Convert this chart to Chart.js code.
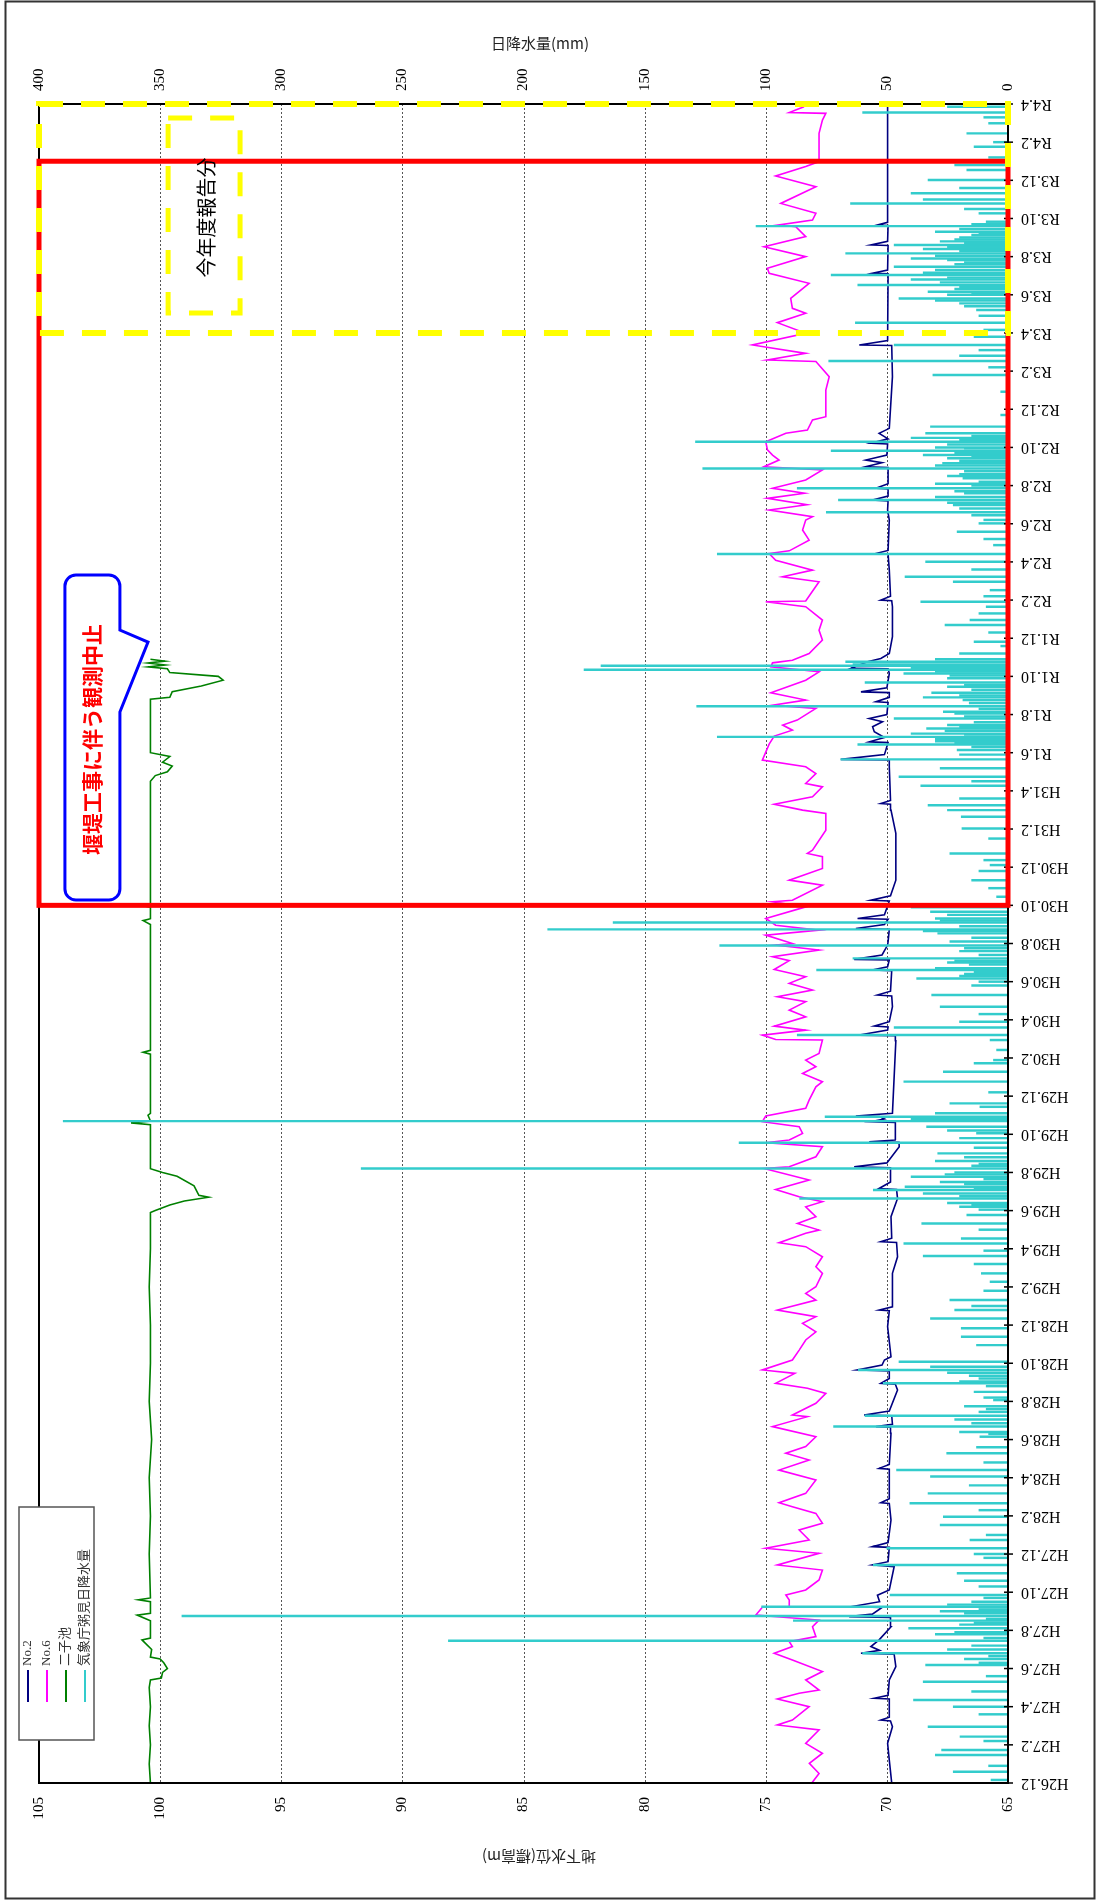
<!DOCTYPE html>
<html><head><meta charset="utf-8">
<script src="https://cdn.jsdelivr.net/npm/chart.js@4.4.1/dist/chart.umd.min.js"></script>
<style>html,body{margin:0;padding:0;background:#fff;}canvas{display:block;}</style>
</head><body>
<canvas id="c" width="1097" height="1901" style="width:1097px;height:1901px"></canvas>
<script>
// ---- tick labels (time axis in months since H26.12) ----
const dateTickLabels = ['H26.12','H27.2','H27.4','H27.6','H27.8','H27.10','H27.12','H28.2','H28.4','H28.6','H28.8','H28.10','H28.12','H29.2','H29.4','H29.6','H29.8','H29.10','H29.12','H30.2','H30.4','H30.6','H30.8','H30.10','H30.12','H31.2','H31.4','R1.6','R1.8','R1.10','R1.12','R2.2','R2.4','R2.6','R2.8','R2.10','R2.12','R3.2','R3.4','R3.6','R3.8','R3.10','R3.12','R4.2','R4.4'];
const levelTicks = [105,100,95,90,85,80,75,70,65];
const rainTicks = [400,350,300,250,200,150,100,50,0];
const seriesNames = ['No.2','No.6','二子池','気象庁粥見日降水量'];

// ---- No.6 groundwater level [month, m] ----
const no6Series = [[0,73.1],[0.5,72.8],[1.03,73.2],[1.56,72.66],[2.08,73.35],[2.78,72.8],[3.04,74.52],[3.3,73.9],[4.0,73.21],[4.4,74.52],[4.7,73.62],[4.87,72.8],[5.4,73.35],[5.84,72.66],[6.45,73.9],[6.8,74.65],[7.15,73.9],[7.41,74.03],[7.67,72.93],[8.19,73.07],[8.54,72.8],[8.8,75.41],[9.21,75.14],[9.24,74.0],[9.59,74.03],[9.85,74.17],[10.12,73.35],[10.64,72.8],[11.16,72.66],[11.43,74.52],[12.04,72.8],[12.3,75.0],[12.74,73.21],[13.26,73.62],[13.61,72.66],[14.13,72.93],[14.48,73.9],[14.69,74.45],[15.18,73.35],[15.88,72.93],[16.4,74.45],[16.93,73.21],[17.28,74.17],[17.63,73.35],[18.15,72.93],[18.68,74.72],[19.2,73.28],[19.29,73.9],[19.9,72.93],[20.42,72.52],[20.69,73.28],[20.95,74.59],[21.47,73.8],[21.65,75.14],
[22.17,73.9],[22.69,73.62],[23.22,73.35],[23.65,72.93],[24.09,73.48],[24.44,72.93],[24.79,74.52],[25.31,72.93],[25.66,73.35],[26.01,72.93],[26.71,72.66],[27.06,72.93],[27.58,72.66],[28.11,73.35],[28.32,74.45],[28.81,73.35],[28.98,72.8],[29.33,73.69],[29.68,72.93],[30.2,73.35],[30.47,72.66],[30.73,73.62],[31.11,74.59],[31.6,73.21],[32.21,75.07],[32.3,74.03],[32.82,72.93],[33.35,72.66],[33.56,75.0],[33.7,74.03],[34.05,73.48],[34.4,73.62],[34.66,75.14],[34.96,75.0],[35.36,73.35],[35.79,73.21],[36.49,72.93],[36.76,72.66],[37.19,73.48],[37.54,72.93],[37.89,73.35],[38.24,72.8],[38.94,72.66],[38.97,74.59],[39.2,75.14],[39.46,73.35],[39.67,74.65],[40.16,73.35],[40.51,74.03],[40.95,73.35],[41.21,74.52],[41.56,73.07],[41.91,74.03],[42.26,73.35],[42.64,74.65],[43.1,74.03],[43.31,74.72],[43.66,72.8],[43.92,74.59],
[44.0,73.9],[44.44,75.0],[44.7,72.8],[44.96,74.59],[45.31,75.0],[45.92,73.35],[46.19,74.72],[46.27,73.9],[47.06,72.66],[47.32,74.03],[47.93,72.66],[48.55,72.66],[48.72,73.28],[48.89,73.07],[49.94,72.52],[50.82,72.52],[50.99,73.48],[51.3,74.65],[51.69,73.07],[52.21,72.66],[52.39,73.35],[52.91,72.93],[53.26,73.35],[53.61,75.14],[54.45,74.86],[54.87,74.65],[55.18,73.9],[55.45,74.3],[55.71,73.7],[56.32,72.93],[56.49,74.72],[56.76,73.35],[57.14,74.79],[57.8,73.35],[58.24,72.8],[58.5,74.79],[58.71,74.72],[58.85,73.9],[59.2,73.21],[59.9,72.66],[60.42,72.8],[60.95,72.66],[61.65,73.35],[61.91,75.0],[61.95,73.35],[62.96,72.8],[63.22,74.31],[63.57,73.07],[64.09,74.59],[64.44,74.86],[64.58,74.03],[65.14,73.21],[65.67,73.48],[66.19,73.35],
[66.37,73.07],[66.72,74.86],[67.0,73.3],[67.33,74.93],[67.6,73.4],[67.86,74.72],[68.29,73.35],[68.82,72.66],[68.99,75.07],[69.34,74.45],[69.6,74.72],[69.87,74.93],[70.3,75.0],[70.74,74.17],[70.91,73.28],[71.44,73.07],[71.61,72.52],[73.01,72.52],[73.71,72.38],[74.5,72.93],[74.58,74.93],[74.93,73.35],[75.37,75.55],[75.98,73.35],[76.54,74.52],[77.03,73.35],[77.29,73.9],[77.81,73.97],[78.6,73.21],[79.13,74.86],[79.39,74.93],[80.0,73.35],[80.52,75.07],[81.05,73.35],[81.57,73.76],[81.66,74.45],[81.92,73.07],[82.27,72.93],[82.79,74.38],[83.67,72.93],[84.23,74.59],[84.72,73.35],[84.98,72.8],[86.46,72.8],[87.16,72.66],[87.51,72.52],[87.55,74.03],[87.86,73.42]];

// ---- No.2 groundwater level [month, m] ----
const no2Series = [[0,69.8],[1.2,69.9],[2.08,69.97],[2.95,69.77],[3.25,69.85],[3.3,70.25],[3.45,69.9],[4.4,69.9],[4.44,70.52],[4.6,69.95],[5.4,69.9],[6.1,69.63],[6.75,69.7],[6.8,71.07],[6.95,70.3],[7.15,70.66],[7.5,70.32],[8.19,69.83],[8.68,69.85],[8.72,71.56],[8.85,70.6],[9.2,70.2],[9.24,71.49],[9.5,70.3],[9.84,70.39],[10.12,69.9],[11.34,69.7],[11.43,70.59],[11.6,69.95],[12.35,69.9],[12.39,70.59],[12.6,69.95],[13.78,69.83],[14.65,69.9],[14.69,70.25],[14.9,69.9],[16.45,69.9],[16.49,70.32],[16.7,69.9],[18.33,69.83],[18.65,69.85],[18.68,70.45],[18.8,69.77],[19.25,69.8],[19.29,70.94],[19.5,69.9],[20.6,69.56],[20.9,69.65],[20.95,70.25],[21.2,69.9],[21.6,69.9],[21.65,71.21],[21.9,70.2],[22.17,70.1],
[22.34,69.83],[23.92,69.97],[24.75,69.9],[24.79,70.32],[24.96,69.77],[26.71,69.77],[27.58,69.56],[28.33,69.6],[28.37,70.25],[28.55,69.8],[29.68,69.83],[30.64,69.56],[31.1,69.6],[31.16,70.32],[31.5,69.85],[32.25,69.85],[32.3,71.35],[32.5,70.0],[33.35,69.49],[33.58,69.5],[33.61,70.73],[33.7,69.63],[34.62,69.65],[34.66,70.66],[34.8,70.1],[34.93,70.3],[34.96,71.28],[35.1,69.77],[38.9,69.63],[39.17,69.65],[39.2,71.14],[39.46,69.97],[39.62,69.95],[39.67,70.52],[39.9,69.9],[40.69,69.77],[41.25,69.8],[41.3,70.39],[41.5,69.85],[42.58,69.8],[42.61,70.59],[42.78,69.97],[43.14,69.9],[43.17,71.35],[43.4,70.2],[43.92,69.97],
[44.1,69.95],[44.75,69.9],[44.79,71.28],[45.0,70.1],[45.27,69.95],[45.31,71.21],[45.5,70.1],[46.23,69.9],[46.27,70.66],[46.5,69.85],[47.32,69.63],[49.77,69.63],[50.99,69.83],[51.3,69.85],[51.34,70.25],[51.5,69.85],[53.26,69.9],[53.62,69.9],[53.65,71.9],[53.9,70.1],[54.53,69.95],[54.57,70.73],[54.8,70.1],[55.1,70.52],[55.36,70.59],[55.62,70.18],[55.79,70.73],[56.0,70.0],[56.63,69.95],[56.67,70.45],[56.9,69.9],[57.15,69.9],[57.19,71.07],[57.4,70.0],[58.15,69.9],[58.4,69.95],[58.42,71.49],[58.77,70.8],[58.94,70.25],[59.2,69.9],[60.08,69.77],[61.65,69.77],[61.97,69.8],[62.0,70.25],[62.2,69.85],[63.57,69.9],[64.4,69.95],[64.44,70.45],[64.6,69.95],[66.19,69.9],
[66.72,69.97],[67.2,69.95],[67.25,70.59],[67.45,69.95],[67.82,69.95],[67.86,70.45],[68.1,69.95],[68.95,69.95],[68.99,70.87],[69.2,70.2],[69.34,70.87],[69.6,70.0],[70.18,69.97],[70.22,70.66],[70.45,69.95],[70.74,70.32],[71.0,69.9],[73.71,69.77],[75.34,69.8],[75.37,71.14],[75.6,69.97],[79.1,69.95],[79.13,70.59],[79.3,69.97],[80.58,69.95],[80.61,70.66],[80.8,69.97],[81.63,69.95],[81.66,70.39],[81.8,69.97],[88.0,69.97]];

// ---- 二子池 water level [month, m] ----
const pondSeries = [[0,100.4],[1.0,100.45],[2.0,100.4],[3.0,100.45],[4.0,100.4],[5.0,100.45],[5.4,100.4],[5.5,99.95],[5.8,99.9],[6.0,99.7],[6.3,99.85],[6.5,100.0],[6.6,100.4],[7.0,100.35],[7.5,100.75],[7.6,100.4],[8.5,100.4],[8.8,100.95],[8.9,100.4],[9.5,100.4],[9.6,100.9],[9.7,100.4],[12,100.45],[14,100.4],[16,100.45],[18,100.35],[20,100.45],[22,100.4],[24,100.4],[26,100.45],[28,100.4],[29.9,100.4],[30.0,100.2],[30.3,99.6],[30.5,99.0],[30.7,98.0],[30.8,98.4],[31.3,98.6],[31.8,99.3],[32.0,99.9],[32.2,100.4],[33,100.4],[34.5,100.4],[34.6,101.2],[34.7,100.4],[35.0,100.5],[35.1,100.4],[38.2,100.4],[38.3,100.7],[38.4,100.4],[42,100.4],[45,100.4],[45.2,100.7],[45.3,100.4],[45.9,100.4],[46.0,100.8],[46.1,100.4],[50,100.4],[52.5,100.4],[52.8,100.2],[53.0,99.7],[53.3,99.5],[53.5,99.9],[53.8,99.6],[54.0,100.4],[56.8,100.4],[56.9,99.6],[57.2,99.5],[57.5,98.3],[57.8,97.4],[58.0,97.6],[58.2,99.6],[58.4,99.7],[58.5,100.5],[58.6,99.8],[58.7,100.5],[58.8,99.8],[58.9,100.4]];

// ---- daily rainfall [month, mm] ----
const rainSeries = [[0.16,7],[0.59,22.6],[0.9,8],[1.47,30],[1.73,27.4],[2.2,10],[2.43,19.8],[2.95,33],[3.6,12],[4.0,22.6],[4.35,39],[4.8,15],[5.31,35],[5.6,9],[6.18,34],[6.5,18],[6.8,60],[7.0,25],[7.46,231],[7.8,30],[8.11,41],[8.3,20],[8.51,88.6],[8.75,341],[9.0,28],[9.24,101.7],[9.5,15],[9.85,48.7],[10.3,12],[10.6,18],[10.99,21],[11.43,55.6],[11.8,10],[12.0,14],[12.3,50],[12.74,15.7],[13.0,9],[13.52,28],[13.96,26.7],[14.3,12],[14.66,40.5],[15.18,33],[15.6,16],[16.06,32],[16.4,46],[16.8,10],[17.28,25.3],[17.6,13],[18.15,11.6],[18.4,20],[18.68,72],[19.25,59],[19.6,9],[20.07,6],[20.95,51.5],[21.2,12],[21.65,61.8],[21.82,32],[22.08,45],[22.95,13],[23.39,19.3],[23.83,19.3],[24.35,32],[24.79,22],[25.0,15],[25.31,24],[25.8,10],[26.27,7.4],[26.71,11],[27.2,14],[27.62,35],[27.9,10],[28.28,43],[28.54,19.3],[29.0,12],[29.33,35.6],[29.77,17],[30.2,20],[30.4,25],[30.64,86],[30.9,35],[31.08,55.6],[31.25,42.5],[31.5,28],[31.78,40],[32.0,22],[32.21,267],[32.6,30],[33.0,29],[33.56,111],[33.8,20],[34.05,13],[34.2,25],[34.4,33.6],[34.69,390],[34.8,40],[34.92,75.5],[35.1,30],[35.44,11.6],[35.62,24],[36.2,8],[36.76,43],[37.28,26.7],[37.72,14],[37.89,6],[38.42,4.7],[38.94,7.4],[39.2,87],[39.6,47],[39.9,20],[40.3,12],[40.69,28],[41.3,31.5],[41.8,15],[42.17,37.7],[42.4,18],[42.61,79],[43.0,25],[43.22,64],[43.6,20],[43.9,119],[44.53,29],[44.74,190],[45.1,163],[45.31,30],[45.5,25],[45.66,32],[45.9,40],[46.45,4.7],[46.9,8],[47.32,15],[47.8,12],[48.11,7.4],[48.37,10],[48.72,24],[49.5,8],[50.03,19],[50.64,19.3],[50.99,25],[51.25,33],[51.6,20],[52.27,36],[52.5,15],[52.74,45],[53.18,28],[53.65,69],[53.9,20],[54.14,21],[54.43,62],[54.6,30],[54.83,120],[55.0,40],[55.27,33.6],[55.45,25],[55.79,47],[56.15,26.7],[56.44,128.5],[56.76,18.6],[56.9,35],[57.14,31.5],[57.46,25],[57.68,59],[57.9,25],[58.15,43],[58.35,175],[58.56,168],[58.63,64],[58.77,67],[58.9,30],[59.2,20],[59.59,3],[59.81,14],[60.3,8],[60.69,26],[60.95,15.7],[61.3,12],[61.65,9],[61.91,36],[62.2,10],[62.52,7.4],[62.96,22.6],[63.22,42.5],[63.6,15],[64.01,34],[64.41,120],[64.88,6],[65.2,10],[65.58,21],[66.02,12],[66.6,75],[66.98,22.6],[67.25,70],[67.6,18],[67.86,87],[68.1,30],[68.38,18.6],[68.6,20],[68.9,126],[69.17,27],[69.43,25],[69.6,35],[69.83,73],[70.0,30],[70.3,129],[70.5,40],[70.74,34],[71.09,32],[71.7,3],[72.92,3],[73.8,31],[74.2,8],[74.53,74],[74.8,20],[75.1,12],[75.37,47],[75.8,14],[76.16,10],[76.54,63],[76.9,12],[77.2,13],[77.4,18],[77.55,20],[77.7,30],[77.81,45],[78.0,25],[78.16,33],[78.3,22],[78.51,62],[78.8,40],[79.04,73],[79.3,30],[79.47,47],[79.82,25],[79.9,40],[80.17,67],[80.4,35],[80.61,47],[80.8,28],[81.0,20],[81.13,15],[81.3,30],[81.6,104],[81.83,9],[82.27,12],[82.5,18],[82.79,65],[83.0,35],[83.32,40],[83.6,20],[84.02,33],[84.54,17],[84.8,22],[85.2,8],[85.76,14],[86.0,6],[86.46,17],[86.99,8],[87.3,10],[87.55,60],[87.86,25],
[6.3,12],[6.65,8],[7.2,15],[7.6,10],[7.9,22],[8.4,14],[8.6,9],[8.9,18],[9.1,12],[9.35,25],[9.7,10],
[18.3,8],[18.85,15],[19.05,22],[19.45,12],[19.75,18],[20.2,10],[20.5,14],[20.8,9],[21.05,20],[21.35,16],[21.5,25],
[30.05,12],[30.3,15],[30.75,20],[31.15,14],[31.4,18],[31.65,10],[31.9,26],[32.35,15],[32.45,12],[32.8,18],[33.3,14],
[42.0,12],[42.3,20],[42.5,14],[42.7,30],[42.9,16],[43.1,22],[43.4,12],[43.75,18],[44.1,24],[44.3,15],[44.65,35],[44.9,20],[45.2,28],
[54.3,15],[54.5,22],[54.7,30],[54.95,18],[55.15,26],[55.35,20],[55.6,14],[55.9,18],[56.05,22],[56.3,12],[56.6,16],[57.0,20],[57.3,15],[57.55,18],[58.05,24],[58.25,30],[58.45,40],
[66.2,10],[66.45,15],[66.8,20],[67.1,25],[67.4,30],[67.7,22],[68.0,15],[68.2,12],[68.5,25],[68.75,18],[69.05,30],[69.3,20],[69.5,15],[69.7,22],[69.95,18],[70.15,25],[70.4,20],[70.6,15],
[78.1,15],[78.4,20],[78.65,28],[78.9,25],[79.15,35],[79.6,22],[79.7,18],[80.05,30],[80.3,20],[80.5,25],[80.7,18],[80.9,22],[81.2,12],[81.45,20],[81.7,15]];

// ---- annotation ranges (months) ----
const stopRange = [46, 85];      // 堰堤工事に伴う観測中止 frame
const reportRange = [76, 88];    // 今年度報告分 frame

const colors = {no2:'#000080', no6:'#ff00ff', pond:'#008000', rain:'#33cccc'};
const SERIF = '"Liberation Serif","Noto Sans CJK JP",serif';
const CJK = '"Noto Sans CJK JP",sans-serif';

function tx(ctx, text, x, y, rot, align, font, color){
  ctx.save(); ctx.translate(x,y); ctx.rotate(rot);
  ctx.font = font; ctx.fillStyle = color||'#000';
  ctx.textAlign = align; ctx.textBaseline = 'middle';
  ctx.fillText(text,0,0); ctx.restore();
}

const decor = {
  id:'decor',
  beforeDraw(chart){
    const c = chart.ctx; c.save(); c.fillStyle='#fff'; c.fillRect(0,0,chart.width,chart.height); c.restore();
  },
  beforeDatasetsDraw(chart){
    const c = chart.ctx, a = chart.chartArea, X = chart.scales.x;
    c.save(); c.strokeStyle='#555'; c.lineWidth=1; c.setLineDash([2,2]);
    levelTicks.forEach(v=>{
      if(v===105||v===65) return;
      const px = Math.round(X.getPixelForValue(v))+0.5;
      c.beginPath(); c.moveTo(px,a.top); c.lineTo(px,a.bottom); c.stroke();
    });
    c.restore();
  },
  afterDatasetsDraw(chart){
    const c = chart.ctx, a = chart.chartArea, X = chart.scales.x, X2 = chart.scales.x2, Y = chart.scales.y;
    c.save();
    c.strokeStyle='#000'; c.lineWidth=2; c.setLineDash([]);
    c.beginPath(); c.moveTo(a.left,a.top); c.lineTo(a.left,a.bottom); c.lineTo(a.right,a.bottom); c.lineTo(a.right,a.top); c.lineTo(a.left,a.top); c.stroke();
    c.lineWidth=1.5;
    dateTickLabels.forEach((lab,i)=>{
      const py = Y.getPixelForValue(i*2);
      c.beginPath(); c.moveTo(a.right-4,py); c.lineTo(a.right+5,py); c.stroke();
    });
    const yS1 = Y.getPixelForValue(stopRange[0]), yS2 = Y.getPixelForValue(stopRange[1]);
    c.strokeStyle='#ff0000'; c.lineWidth=5;
    c.strokeRect(a.left, yS2, a.right-a.left, yS1-yS2);
    const yR1 = Y.getPixelForValue(reportRange[0]), yR2 = Y.getPixelForValue(reportRange[1]);
    c.strokeStyle='#ffff00'; c.lineWidth=6; c.setLineDash([24,18]);
    c.strokeRect(a.left, yR2, a.right-a.left, yR1-yR2);
    const bx1 = X.getPixelForValue(99.67), bx2 = X.getPixelForValue(96.7);
    const by1 = Y.getPixelForValue(87.26), by2 = Y.getPixelForValue(77.04);
    c.lineWidth=5; c.setLineDash([24,18]);
    c.strokeRect(bx1, by1, bx2-bx1, by2-by1);
    c.setLineDash([]);
    tx(c,'今年度報告分',(bx1+bx2)/2+2,(by1+by2)/2+2,-Math.PI/2,'center','20px '+CJK,'#000');
    const L = X.getPixelForValue(103.93), R = X.getPixelForValue(101.66);
    const T = Y.getPixelForValue(63.31), B = Y.getPixelForValue(46.28);
    const p1 = Y.getPixelForValue(60.43), p2 = Y.getPixelForValue(56.13);
    const tipX = X.getPixelForValue(100.5), tipY = Y.getPixelForValue(59.8);
    const r = 11;
    c.beginPath();
    c.moveTo(L+r,T); c.lineTo(R-r,T); c.arcTo(R,T,R,T+r,r);
    c.lineTo(R,p1); c.lineTo(tipX,tipY); c.lineTo(R,p2);
    c.lineTo(R,B-r); c.arcTo(R,B,R-r,B,r); c.lineTo(L+r,B); c.arcTo(L,B,L,B-r,r);
    c.lineTo(L,T+r); c.arcTo(L,T,L+r,T,r); c.closePath();
    c.fillStyle='#fff'; c.fill(); c.strokeStyle='#0000ff'; c.lineWidth=3; c.stroke();
    tx(c,'堰堤工事に伴う観測中止',(L+R)/2,(T+B)/2+2,-Math.PI/2,'center','bold 21px '+CJK,'#ff0000');
    levelTicks.forEach(v=>tx(c,String(v),X.getPixelForValue(v),a.bottom+14,-Math.PI/2,'right','15px '+SERIF,'#000'));
    rainTicks.forEach(v=>tx(c,String(v),X2.getPixelForValue(v),a.top-13,-Math.PI/2,'left','15px '+SERIF,'#000'));
    dateTickLabels.forEach((lab,i)=>tx(c,lab,a.right+13,Y.getPixelForValue(i*2),Math.PI,'right','16px '+SERIF,'#000'));
    tx(c,'日降水量(mm)',540,43,0,'center','15px '+CJK,'#222');
    tx(c,'地下水位(標高m)',539,1857,Math.PI,'center','15px '+CJK,'#222');
    c.fillStyle='#fff'; c.fillRect(19,1507,75,233);
    c.strokeStyle='#555'; c.lineWidth=1.5; c.strokeRect(19,1507,75,233);
    const lx=[28,47,66,85], lc=[colors.no2,colors.no6,colors.pond,colors.rain];
    seriesNames.forEach((n,i)=>{
      c.strokeStyle=lc[i]; c.lineWidth=2;
      c.beginPath(); c.moveTo(lx[i],1670); c.lineTo(lx[i],1702); c.stroke();
      tx(c,n,lx[i],1666,-Math.PI/2,'left','13px '+SERIF,'#333');
    });
    c.strokeStyle='#333'; c.lineWidth=2; c.strokeRect(5.5,1.5,1089,1897);
    c.restore();
  }
};

const toPts = s => s.map(p=>({x:p[1], y:p[0]}));

new Chart(document.getElementById('c'), {
  type:'bar',
  data:{datasets:[
    {type:'bar', label:seriesNames[3], data:toPts(rainSeries), xAxisID:'x2', yAxisID:'y', backgroundColor:colors.rain, borderWidth:0, barThickness:1.8, grouped:false, order:0},
    {type:'line', label:seriesNames[0], data:toPts(no2Series), xAxisID:'x', yAxisID:'y', borderColor:colors.no2, borderWidth:1.6, pointRadius:0, tension:0, order:1},
    {type:'line', label:seriesNames[1], data:toPts(no6Series), xAxisID:'x', yAxisID:'y', borderColor:colors.no6, borderWidth:1.6, pointRadius:0, tension:0, order:2},
    {type:'line', label:seriesNames[2], data:toPts(pondSeries), xAxisID:'x', yAxisID:'y', borderColor:colors.pond, borderWidth:1.6, pointRadius:0, tension:0, order:3}
  ]},
  options:{
    indexAxis:'y', responsive:false, animation:false, devicePixelRatio:1,
    layout:{padding:{left:39,right:89,top:104,bottom:118}},
    scales:{
      y:{type:'linear', min:0, max:88, offset:false, display:false},
      x:{type:'linear', min:65, max:105, reverse:true, offset:false, display:false},
      x2:{type:'linear', min:0, max:400, reverse:true, offset:false, display:false, position:'top'}
    },
    plugins:{legend:{display:false}, tooltip:{enabled:false}}
  },
  plugins:[decor]
});
</script>
</body></html>
